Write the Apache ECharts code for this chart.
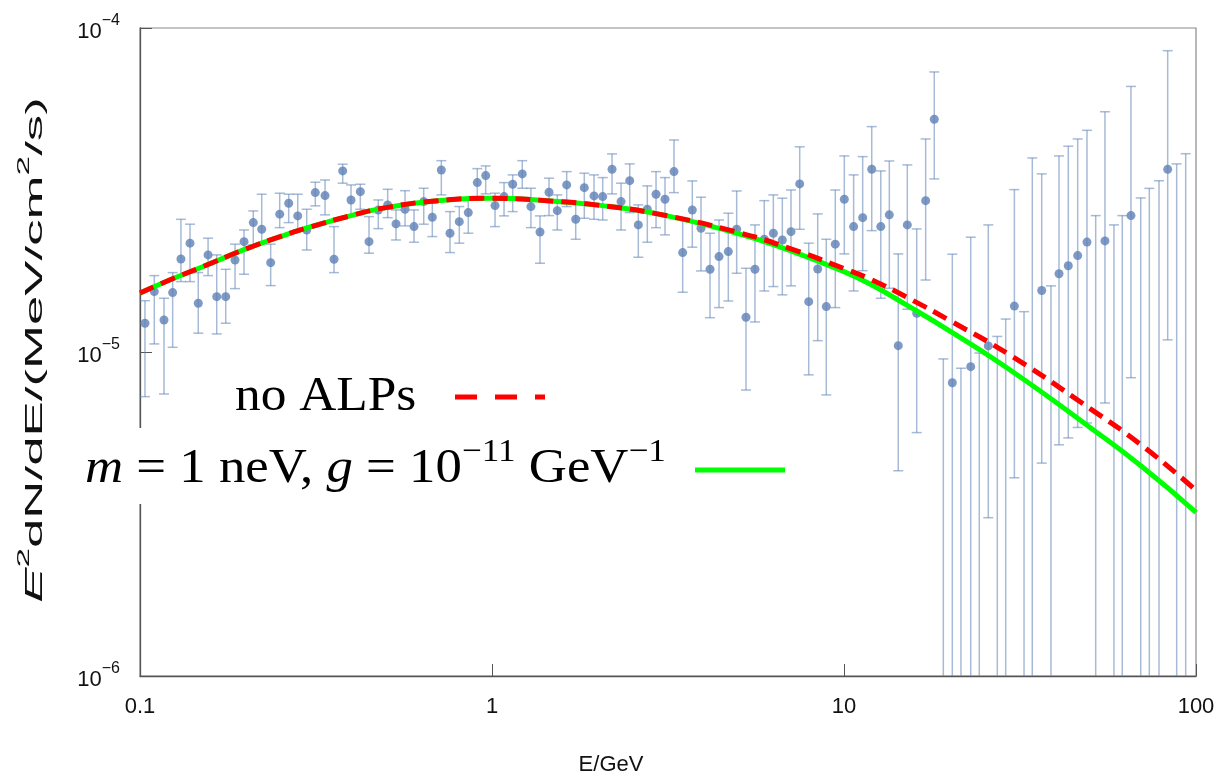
<!DOCTYPE html>
<html><head><meta charset="utf-8">
<script src="https://cdn.jsdelivr.net/npm/echarts@6/dist/echarts.min.js"></script>
<style>html,body{margin:0;padding:0;background:#fff}#c{width:1223px;height:781px}</style>
</head><body><div id="c"></div>
<script>
// Energy bin centres (GeV)
const energyGeV = [
0.1033,0.1098,0.1170,0.1238,0.1307,0.1387,0.1464,0.1561,0.1652,0.1752,
0.1862,0.1975,0.2098,0.2217,0.2351,0.2494,0.2645,0.2806,0.2976,0.3148,
0.3355,0.3558,0.3766,0.3976,0.4226,0.4473,0.4753,0.5054,0.5337,0.5661,
0.6004,0.6398,0.6768,0.7178,0.7598,0.8074,0.8563,0.9082,0.9596,1.020,
1.082,1.145,1.219,1.290,1.369,1.452,1.533,1.630,1.729,1.829,
1.949,2.063,2.193,2.326,2.462,2.604,2.762,2.924,3.101,3.289,
3.481,3.707,3.924,4.163,4.415,4.692,4.956,5.267,5.586,5.936,
6.299,6.680,7.070,7.485,7.939,8.420,8.906,9.446,10.02,10.65,
11.30,11.99,12.72,13.45,14.26,15.13,16.09,17.06,18.05,19.15,
20.31,21.49,22.91,24.23,25.70,27.26,28.80,30.48,32.47,34.27,
36.45,38.73,40.81,43.37,46.12,49.01,51.88,55.13,58.47,61.74,
65.35,69.66,73.69,78.51,83.09,88.13,93.48];
// E^2 dN/dE in units of 1e-5 MeV/cm^2/s (null = below plot range)
const fluxE5 = [
1.227,1.536,1.255,1.525,1.937,2.167,1.414,1.994,1.482,1.482,
1.923,2.191,2.508,2.392,1.887,2.663,2.879,2.631,2.380,3.104,
3.039,1.933,3.621,2.946,3.125,2.191,2.744,2.845,2.485,2.758,
2.438,2.912,2.606,3.646,2.326,2.525,2.693,3.333,3.504,2.831,
3.017,3.295,3.546,2.811,2.347,3.112,2.731,3.279,2.568,3.216,
3.032,3.017,3.665,2.912,3.380,2.468,2.758,3.069,2.961,3.604,
2.027,2.744,2.410,1.800,1.970,2.041,2.392,1.280,1.800,2.228,
2.326,2.217,2.352,3.302,1.430,1.804,1.381,2.152,2.961,2.438,
2.598,3.665,2.438,2.650,1.046,2.468,1.317,2.932,5.228,null,
0.804,null,0.901,null,1.044,null,null,1.386,null,null,
1.548,null,1.744,1.846,1.984,2.184,null,2.202,null,null,
2.636,null,null,null,3.663,null,null];
// upper end of error bar (1e-5 units)
const fluxHiE5 = [
1.440,1.721,1.465,1.758,2.568,2.480,1.758,2.245,1.994,1.800,
2.152,2.380,2.725,3.069,2.152,3.091,3.069,3.069,2.758,3.342,
3.396,2.438,3.799,3.279,3.295,2.617,2.946,3.178,2.744,3.147,
2.744,3.202,2.885,3.895,2.712,2.811,2.946,3.681,3.753,3.091,
3.333,3.521,3.895,3.202,2.631,3.439,3.054,3.604,2.885,3.563,
3.521,3.454,4.087,3.319,3.807,2.845,3.256,3.604,3.454,4.512,
2.555,3.373,3.004,2.326,2.555,2.682,3.140,1.813,2.468,2.932,
3.054,2.983,3.162,4.298,2.167,2.668,2.228,3.162,4.029,3.521,
4.009,4.962,3.621,3.887,2.008,3.780,2.398,4.545,7.317,0.952,
2.004,0.891,2.261,0.993,2.468,1.117,1.264,3.171,1.332,3.972,
3.546,1.600,4.029,4.317,4.545,4.833,2.636,5.515,2.468,2.636,
6.602,2.989,3.199,3.377,8.512,3.807,4.093];
// lower end of error bar (1e-5 units, null = reaches below the plot)
const fluxLoE5 = [
0.728,1.059,0.742,1.034,1.649,1.649,1.143,1.721,1.137,1.227,
1.569,1.738,2.141,2.167,1.603,2.420,2.508,2.380,2.065,2.825,
2.650,1.758,3.319,2.650,2.758,2.018,2.403,2.598,2.217,2.450,
2.182,2.480,2.271,3.054,2.027,2.167,2.326,3.017,3.076,2.438,
2.631,2.712,3.202,2.420,1.879,2.636,2.380,2.811,2.228,2.587,
2.568,2.555,3.076,2.380,2.693,1.961,2.182,2.420,2.299,3.104,
1.529,2.106,1.779,1.276,1.371,1.437,1.750,0.763,1.238,1.543,
1.592,1.501,1.600,2.392,0.850,1.084,0.737,1.371,2.008,1.543,
1.782,2.369,1.465,1.573,0.430,1.355,0.564,1.668,3.421,null,
null,null,null,null,0.308,null,null,0.409,null,null,
0.454,null,0.517,0.543,0.585,0.604,null,0.696,null,null,
0.833,null,null,null,1.090,null,null];
// model curves (1e-5 units)
const curveE    = [0.1,0.12,0.15,0.2,0.25,0.3,0.4,0.5,0.7,1,1.5,2,3,5,7,10,12,15,20,30,50,70,100];
const noAlpsE5  = [1.52,1.66,1.83,2.08,2.27,2.42,2.64,2.79,2.93,2.98,2.92,2.84,2.66,2.34,2.09,1.81,1.67,1.48,1.25,0.970,0.669,0.516,0.374];
const alpE5     = [1.52,1.66,1.83,2.08,2.27,2.42,2.64,2.79,2.93,2.98,2.92,2.84,2.66,2.32,2.06,1.77,1.61,1.40,1.16,0.872,0.585,0.444,0.320];
const xTickLabels = {'-1':'0.1','0':'1','1':'10','2':'100'};
const UNIT = 1e-5;

const points = [], bars = [];
energyGeV.forEach((e, i) => {
  if (fluxE5[i] != null) points.push([e, fluxE5[i] * UNIT]);
  const lo = fluxLoE5[i];
  bars.push([e, lo == null ? 1e-5 : lo * UNIT, fluxHiE5[i] * UNIT, lo == null ? 0 : 1]);
});
const noAlps = curveE.map((e, i) => [e, noAlpsE5[i] * UNIT]);
const alp = curveE.map((e, i) => [e, alpE5[i] * UNIT]);

const barColor = 'rgba(94,129,181,0.55)';
const chart = echarts.init(document.getElementById('c'));
chart.setOption({
  animation: false,
  backgroundColor: '#fff',
  grid: { left: 140, right: 27, top: 28, bottom: 105, show: true, borderColor: '#8a8a8a', borderWidth: 1.2 },
  xAxis: {
    type: 'log', logBase: 10, min: 0.1, max: 100,
    axisLine: { lineStyle: { color: '#555', width: 1.3 } },
    axisTick: { inside: true, length: 12, lineStyle: { color: '#555', width: 1 } },
    splitLine: { show: false },
    axisLabel: {
      margin: 20, fontSize: 22, fontFamily: 'Liberation Sans', color: '#111',
      formatter: v => xTickLabels[String(Math.round(Math.log10(v)))]
    }
  },
  yAxis: {
    type: 'log', logBase: 10, min: 1e-6, max: 1e-4,
    axisLine: { lineStyle: { color: '#555', width: 1.3 } },
    axisTick: { inside: true, length: 12, lineStyle: { color: '#555', width: 1 } },
    splitLine: { show: false },
    axisLabel: {
      margin: 20, color: '#111',
      formatter: v => { const e = Math.round(Math.log10(v)); return '{b|10}{s|' + (e < 0 ? '\u2212' : '') + Math.abs(e) + '}'; },
      rich: {
        b: { fontSize: 22, fontFamily: 'Liberation Sans', color: '#111', lineHeight: 30, verticalAlign: 'bottom' },
        s: { fontSize: 16, fontFamily: 'Liberation Sans', color: '#111', lineHeight: 16, verticalAlign: 'top' }
      }
    }
  },
  series: [
    {
      type: 'custom', z: 2, data: bars, silent: true,
      renderItem(params, api) {
        const e = api.value(0), lo = api.value(1), hi = api.value(2), hasLo = api.value(3);
        const cs = params.coordSys;
        const top = api.coord([e, hi]);
        const x = top[0], yTop = top[1];
        const gb = cs.y + cs.height;
        let yBot = hasLo ? api.coord([e, lo])[1] : gb;
        if (yBot > gb) yBot = gb;
        const st = { stroke: barColor, lineWidth: 1.5 };
        const ch = [
          { type: 'line', shape: { x1: x, y1: yTop, x2: x, y2: yBot }, style: st },
          { type: 'line', shape: { x1: x - 5, y1: yTop, x2: x + 5, y2: yTop }, style: st }
        ];
        if (hasLo && yBot < gb) ch.push({ type: 'line', shape: { x1: x - 5, y1: yBot, x2: x + 5, y2: yBot }, style: st });
        return { type: 'group', children: ch };
      }
    },
    { type: 'scatter', z: 3, data: points, symbolSize: 9, itemStyle: { color: '#5E81B5' } },
    { type: 'line', z: 4, data: alp, showSymbol: false, smooth: true, lineStyle: { color: '#00ff00', width: 5 } },
    { type: 'line', z: 5, data: noAlps, showSymbol: false, smooth: true, lineStyle: { color: '#ff0000', width: 5, type: [15, 8] } }
  ],
  graphic: [
    { type: 'rect', z: 100, shape: { x: 75, y: 428, width: 725, height: 76 }, style: { fill: '#fff' } },
    { type: 'text', z: 101, x: 235, y: 397, scaleX: 1.07, style: { text: 'no ALPs', font: '48px "Liberation Serif"', fill: '#000', verticalAlign: 'middle' } },
    { type: 'line', z: 101, shape: { x1: 455, y1: 397, x2: 545, y2: 397 }, style: { stroke: '#ff0000', lineWidth: 5, lineDash: [22, 18] } },
    { type: 'text', z: 101, x: 85, y: 465, scaleX: 1.1, style: {
        text: '{i|m}{n| = 1 neV, }{i|g}{n| = 10}{s|\u221211}{n| GeV}{s|\u22121}',
        verticalAlign: 'middle',
        rich: {
          i: { font: 'italic 48px "Liberation Serif"', fill: '#000', lineHeight: 56, verticalAlign: 'bottom' },
          n: { font: '48px "Liberation Serif"', fill: '#000', lineHeight: 56, verticalAlign: 'bottom' },
          s: { font: '32px "Liberation Serif"', fill: '#000', lineHeight: 32, verticalAlign: 'top' }
        } } },
    { type: 'line', z: 101, shape: { x1: 695, y1: 470, x2: 785, y2: 470 }, style: { stroke: '#00ff00', lineWidth: 5 } },
    { type: 'text', x: 611, y: 765, style: { text: 'E/GeV', font: '22px "Liberation Sans"', fill: '#111', align: 'center', verticalAlign: 'middle' } },
    { type: 'text', x: 32, y: 350, rotation: Math.PI / 2, scaleX: 2.2, style: {
        text: '{i|E}{s|2}{n|dN/dE/(MeV/cm}{s|2}{n|/s)}', align: 'center', verticalAlign: 'middle',
        rich: {
          i: { font: 'italic 24px "Liberation Sans"', fill: '#111', lineHeight: 30, verticalAlign: 'bottom' },
          n: { font: '24px "Liberation Sans"', fill: '#111', lineHeight: 30, verticalAlign: 'bottom' },
          s: { font: '16px "Liberation Sans"', fill: '#111', lineHeight: 16, verticalAlign: 'top' }
        } } }
  ]
});
</script></body></html>
